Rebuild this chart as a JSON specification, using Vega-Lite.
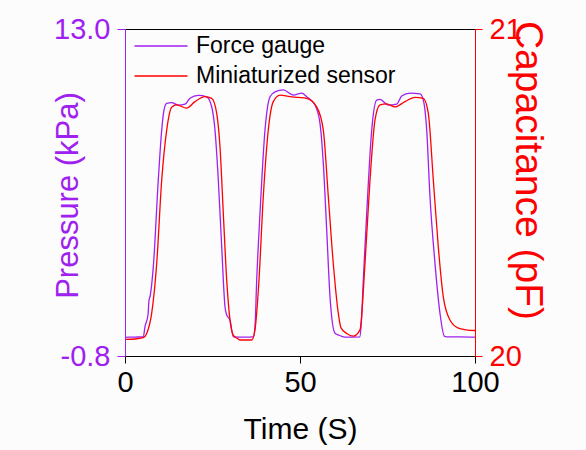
{
  "$schema": "https://vega.github.io/schema/vega-lite/v6.json",
  "width": 350,
  "height": 327,
  "autosize": {"type": "none"},
  "padding": {"left": 125, "top": 29, "right": 111, "bottom": 94},
  "background": "#fcfcfc",
  "config": {
    "view": {"stroke": "black", "strokeWidth": 1},
    "font": "Liberation Sans"
  },
  "datasets": {
    "force": [
      {"t": 0, "p": -0.01}, {"t": 2.86, "p": 0.0}, {"t": 5.23, "p": 0.01}, {"t": 5.71, "p": 0.44},
      {"t": 6.57, "p": 0.93}, {"t": 6.86, "p": 1.56}, {"t": 7.14, "p": 1.7}, {"t": 8.09, "p": 2.97},
      {"t": 9.51, "p": 6.63}, {"t": 10.49, "p": 8.74}, {"t": 11.14, "p": 9.58}, {"t": 11.91, "p": 9.86},
      {"t": 13.34, "p": 9.89}, {"t": 15.23, "p": 9.79}, {"t": 17.14, "p": 9.83}, {"t": 18.57, "p": 10.08},
      {"t": 20.94, "p": 10.2}, {"t": 23.34, "p": 10.14}, {"t": 24.77, "p": 9.72}, {"t": 25.71, "p": 8.74},
      {"t": 26.66, "p": 6.63}, {"t": 27.63, "p": 3.81}, {"t": 28.57, "p": 1.28}, {"t": 29.06, "p": 0.93},
      {"t": 30.0, "p": 0.72}, {"t": 30.94, "p": 0.01}, {"t": 34.29, "p": 0.0}, {"t": 36.66, "p": 0.01},
      {"t": 37.14, "p": 0.44}, {"t": 37.63, "p": 2.41}, {"t": 38.57, "p": 5.22}, {"t": 40.0, "p": 8.74},
      {"t": 41.43, "p": 10.14}, {"t": 42.86, "p": 10.35}, {"t": 45.23, "p": 10.43}, {"t": 48.09, "p": 10.21},
      {"t": 50.49, "p": 10.29}, {"t": 51.91, "p": 10.14}, {"t": 54.29, "p": 9.79}, {"t": 55.71, "p": 9.02},
      {"t": 56.66, "p": 7.33}, {"t": 57.63, "p": 4.52}, {"t": 58.57, "p": 1.7}, {"t": 60.0, "p": 0.16},
      {"t": 60.94, "p": 0.09}, {"t": 62.86, "p": 0.0}, {"t": 67.14, "p": 0.01}, {"t": 67.57, "p": 0.72},
      {"t": 68.09, "p": 2.41}, {"t": 69.06, "p": 5.22}, {"t": 70.49, "p": 8.74}, {"t": 71.91, "p": 10.0},
      {"t": 72.86, "p": 10.03}, {"t": 75.23, "p": 9.79}, {"t": 77.63, "p": 9.83}, {"t": 79.06, "p": 10.17},
      {"t": 81.43, "p": 10.29}, {"t": 84.29, "p": 10.26}, {"t": 85.23, "p": 10.0}, {"t": 86.2, "p": 8.74},
      {"t": 87.14, "p": 5.92}, {"t": 88.57, "p": 3.11}, {"t": 90.0, "p": 1.0}, {"t": 91.23, "p": 0.04},
      {"t": 91.91, "p": 0.01}, {"t": 95.71, "p": 0.01}, {"t": 100, "p": 0.0}
    ],
    "sensor": [
      {"t": 0, "c": 20.051}, {"t": 2.86, "c": 20.052}, {"t": 5.23, "c": 20.056}, {"t": 6.2, "c": 20.069},
      {"t": 7.63, "c": 20.131}, {"t": 9.06, "c": 20.283}, {"t": 10.49, "c": 20.538}, {"t": 11.91, "c": 20.691},
      {"t": 13.34, "c": 20.761}, {"t": 14.77, "c": 20.768}, {"t": 17.63, "c": 20.758}, {"t": 20.0, "c": 20.778},
      {"t": 22.86, "c": 20.793}, {"t": 24.77, "c": 20.788}, {"t": 26.2, "c": 20.742}, {"t": 27.14, "c": 20.64},
      {"t": 28.09, "c": 20.436}, {"t": 29.06, "c": 20.232}, {"t": 30.0, "c": 20.11}, {"t": 30.94, "c": 20.064},
      {"t": 31.91, "c": 20.055}, {"t": 32.86, "c": 20.049}, {"t": 36.2, "c": 20.049}, {"t": 37.14, "c": 20.08},
      {"t": 38.23, "c": 20.223}, {"t": 39.51, "c": 20.487}, {"t": 40.94, "c": 20.691}, {"t": 42.37, "c": 20.778},
      {"t": 44.29, "c": 20.798}, {"t": 47.14, "c": 20.793}, {"t": 49.51, "c": 20.791}, {"t": 51.91, "c": 20.788},
      {"t": 54.77, "c": 20.762}, {"t": 56.66, "c": 20.691}, {"t": 58.09, "c": 20.487}, {"t": 59.51, "c": 20.283},
      {"t": 60.94, "c": 20.131}, {"t": 61.71, "c": 20.086}, {"t": 63.34, "c": 20.069}, {"t": 65.23, "c": 20.061},
      {"t": 67.14, "c": 20.08}, {"t": 68.57, "c": 20.283}, {"t": 70.0, "c": 20.538}, {"t": 71.43, "c": 20.722},
      {"t": 72.86, "c": 20.768}, {"t": 74.77, "c": 20.771}, {"t": 77.14, "c": 20.762}, {"t": 80.0, "c": 20.778},
      {"t": 82.86, "c": 20.791}, {"t": 85.23, "c": 20.788}, {"t": 86.66, "c": 20.742}, {"t": 88.09, "c": 20.538},
      {"t": 89.51, "c": 20.334}, {"t": 90.94, "c": 20.181}, {"t": 92.86, "c": 20.11}, {"t": 95.23, "c": 20.085},
      {"t": 97.43, "c": 20.08}, {"t": 100, "c": 20.078}
    ]
  },
  "layer": [
    {
      "data": {"name": "force"},
      "mark": {"type": "line", "interpolate": "monotone", "strokeWidth": 1.3},
      "encoding": {
        "x": {
          "field": "t", "type": "quantitative",
          "scale": {"domain": [0, 100], "nice": false},
          "axis": {
            "title": "Time (S)", "values": [0, 50, 100], "tickSize": 7, "tickColor": "black",
            "domainColor": "black", "labelFontSize": 29, "labelColor": "black", "labelPadding": 5,
            "labelFlush": false, "labelOverlap": false, "titleFontSize": 30, "titleFontWeight": "normal",
            "titleColor": "black", "titlePadding": 17, "grid": false, "zindex": 1
          }
        },
        "y": {
          "field": "p", "type": "quantitative",
          "scale": {"domain": [-0.8, 13], "nice": false, "zero": false},
          "axis": {
            "title": "Pressure (kPa)", "values": [-0.8, 13], "labelExpr": "datum.value > 0 ? '13.0' : '-0.8'",
            "tickSize": 8, "tickColor": "#A020F0", "domainColor": "#A020F0", "labelColor": "#A020F0",
            "labelFontSize": 29, "labelPadding": 7, "labelFlush": false, "labelOverlap": false,
            "titleColor": "#A020F0", "titleFontSize": 31, "titleFontWeight": "normal",
            "titleX": -57, "titleY": 166, "titleAngle": -90, "titleAlign": "center", "titleBaseline": "middle",
            "grid": false, "zindex": 1
          }
        },
        "color": {
          "datum": "Force gauge",
          "scale": {"domain": ["Force gauge", "Miniaturized sensor"], "range": ["#A020F0", "#FF0000"]},
          "legend": {
            "orient": "none", "legendX": 22, "legendY": 3, "title": null, "symbolType": "M-2,0H2",
            "symbolSize": 702, "symbolStrokeWidth": 1.3, "labelFontSize": 23, "labelOffset": 21,
            "labelLimit": 0, "rowPadding": 4, "padding": 0, "labelColor": "black"
          }
        }
      }
    },
    {
      "data": {"name": "sensor"},
      "mark": {"type": "line", "interpolate": "monotone", "strokeWidth": 1.3},
      "encoding": {
        "x": {"field": "t", "type": "quantitative"},
        "y": {
          "field": "c", "type": "quantitative",
          "scale": {"domain": [20, 21], "nice": false, "zero": false},
          "axis": {
            "orient": "right", "title": "Capacitance (pF)", "values": [20, 21], "format": "d",
            "tickSize": 7, "tickColor": "#FF0000", "domainColor": "#FF0000", "labelColor": "#FF0000",
            "labelFontSize": 29, "labelPadding": 7, "labelFlush": false, "labelOverlap": false,
            "titleColor": "#FF0000", "titleFontSize": 39, "titleFontWeight": "normal",
            "titleX": 52, "titleY": 141, "titleAngle": 90, "titleAlign": "center", "titleBaseline": "middle",
            "grid": false, "zindex": 1
          }
        },
        "color": {"datum": "Miniaturized sensor"}
      }
    }
  ],
  "resolve": {"scale": {"y": "independent"}}
}
